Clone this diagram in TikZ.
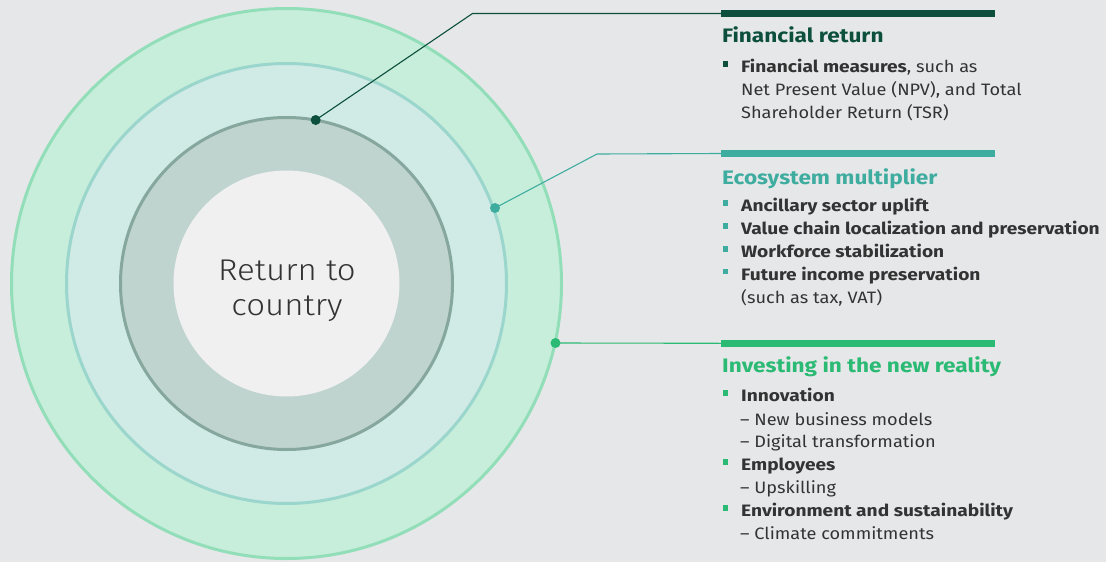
\documentclass[tikz,border=0pt]{standalone}
\usepackage{fontspec}
\setmainfont{Fira Sans}[FakeStretch=1.1,BoldFeatures={FakeStretch=1.16}]
\newfontfamily\lightfont{Fira Sans Light}[FakeStretch=1.1]
\definecolor{bg}{HTML}{E6E7E9}
\definecolor{outerfill}{HTML}{C7EDDB}
\definecolor{outerline}{HTML}{92DEB8}
\definecolor{midfill}{HTML}{D0EAE6}
\definecolor{midline}{HTML}{9BD6CD}
\definecolor{ringfill}{HTML}{BFD3CF}
\definecolor{ringline}{HTML}{85A79D}
\definecolor{corefill}{HTML}{F0F0F0}
\definecolor{txt}{HTML}{333333}
\definecolor{darkgreen}{HTML}{0B4F3C}
\definecolor{teal}{HTML}{3EAD9F}
\definecolor{green}{HTML}{2BBA74}
\tikzset{
  dot/.style={circle,inner sep=0pt,minimum size=10pt},
  leader/.style={line width=1.1pt},
  bar/.style={line width=6.5pt},
  head/.style={anchor=base west,inner sep=0pt,font=\fontsize{19.5}{22}\selectfont\bfseries},
  item/.style={anchor=base west,inner sep=0pt,text=txt,font=\fontsize{16.5}{20}\selectfont},
  sq/.style={inner sep=0pt,minimum size=5.5pt},
}
\begin{document}
\begin{tikzpicture}[x=1pt,y=-1pt]
\fill[bg] (0,0) rectangle (1106,562);
\useasboundingbox (0,0) rectangle (1106,562);
\begin{scope}
\clip (0,0) rectangle (1106,562);
% concentric rings
\coordinate (c) at (286.5,283.5);
\filldraw[fill=outerfill,draw=outerline,line width=3pt] (c) circle[radius=275];
\filldraw[fill=midfill,draw=midline,line width=3pt] (c) circle[radius=220];
\filldraw[fill=ringfill,draw=ringline,line width=3pt] (c) circle[radius=166];
\fill[corefill] (c) circle[radius=113];
\end{scope}
\node[align=center,text=txt,font=\lightfont\fontsize{30}{35}\selectfont] (core) at (287,291) {Return to\\country};

% leaders from the rings to the three headings
\node[dot,fill=darkgreen] (d1) at (315.7,120) {};
\node[dot,fill=teal] (d2) at (495,208) {};
\node[dot,fill=green] (d3) at (555.5,343) {};
\coordinate (e1) at (472.5,13.5);
\coordinate (e2) at (597,154);
\coordinate (b1) at (721,13.5);
\coordinate (b2) at (721,153.5);
\coordinate (b3) at (721,343.3);
\coordinate (f1) at (995,13.5);
\coordinate (f2) at (995,153.5);
\coordinate (f3) at (995,343.3);
\draw[leader,darkgreen] (d1.center) -- (e1) -- (b1);
\draw[leader,teal] (d2.center) -- (e2) -- (b2);
\draw[leader,green] (d3.center) -- (b3);
\draw[bar,darkgreen] (b1) -- (f1);
\draw[bar,teal] (b2) -- (f2);
\draw[bar,green] (b3) -- (f3);

% Financial return
\node[head,text=darkgreen] (h1) at (722,42.7) {Financial return};
\node[sq,fill=darkgreen] (s11) at (725.5,64.2) {};
\node[item] (t11) at (741,72.7) {\textbf{Financial measures}, such as};
\node[item] (t12) at (741,95.5) {Net Present Value (NPV), and Total};
\node[item] (t13) at (741,118) {Shareholder Return (TSR)};

% Ecosystem multiplier
\node[head,text=teal] (h2) at (722,184.3) {Ecosystem multiplier};
\node[sq,fill=teal] (s21) at (725.5,203.2) {};
\node[item] (t21) at (741,211.7) {\textbf{Ancillary sector uplift}};
\node[sq,fill=teal] (s22) at (725.5,225.8) {};
\node[item] (t22) at (741,234.3) {\textbf{Value chain localization and preservation}};
\node[sq,fill=teal] (s23) at (725.5,248.8) {};
\node[item] (t23) at (741,257.3) {\textbf{Workforce stabilization}};
\node[sq,fill=teal] (s24) at (725.5,271.5) {};
\node[item] (t24) at (741,280) {\textbf{Future income preservation}};
\node[item] (t25) at (741,303.3) {(such as tax, VAT)};

% Investing in the new reality
\node[head,text=green] (h3) at (722,372.7) {Investing in the new reality};
\node[sq,fill=green] (s31) at (725.5,393.2) {};
\node[item] (t31) at (741,401.7) {\textbf{Innovation}};
\node[item] (t32) at (740,425) {– New business models};
\node[item] (t33) at (740,447.3) {– Digital transformation};
\node[sq,fill=green] (s32) at (725.5,462.2) {};
\node[item] (t34) at (741,470.7) {\textbf{Employees}};
\node[item] (t35) at (740,493.3) {– Upskilling};
\node[sq,fill=green] (s33) at (725.5,508.2) {};
\node[item] (t36) at (741,516.7) {\textbf{Environment and sustainability}};
\node[item] (t37) at (740,539.3) {– Climate commitments};
\end{tikzpicture}
\end{document}
